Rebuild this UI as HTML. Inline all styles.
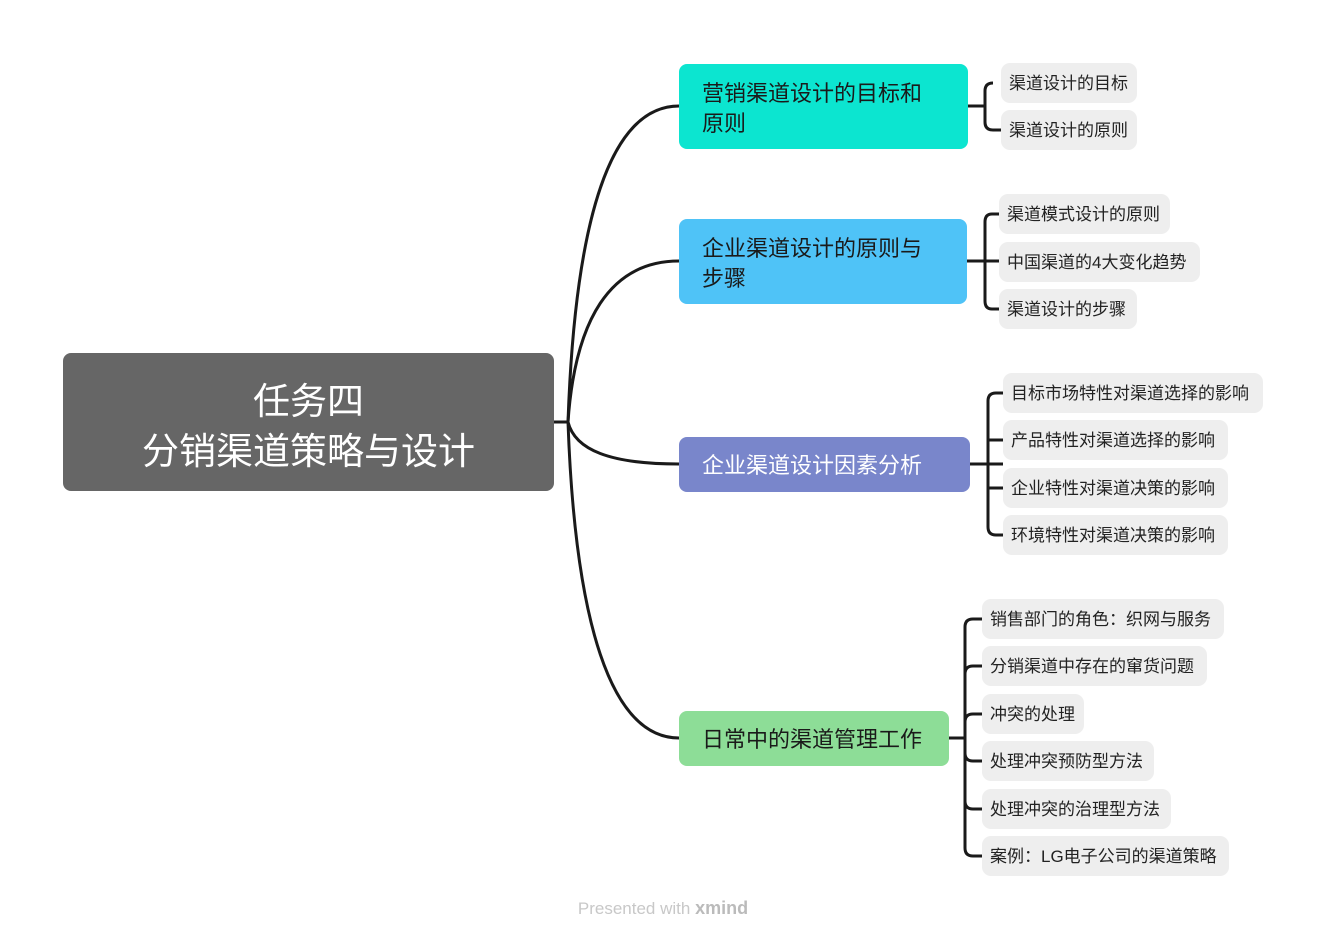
<!DOCTYPE html>
<html><head><meta charset="utf-8"><style>
body{margin:0;width:1326px;height:940px;background:#fff;position:relative;overflow:hidden;font-family:"Liberation Sans","Noto Sans CJK SC",sans-serif}
.n{position:absolute;box-sizing:border-box}
.b{border-radius:8px;font-size:22px;color:#1a1a1a;padding-left:23px;line-height:30px}
.l{background:#eeeeee;border-radius:9px;height:40px;line-height:42px;font-size:17px;color:#222;padding-left:8px}
</style></head><body>
<svg width="1326" height="940" style="position:absolute;left:0;top:0">
<g fill="none" stroke="#1a1a1a" stroke-width="3">
<path d="M554 422 H568 C575 220 610 106 679 106"/>
<path d="M554 422 H568 C575 320 610 261 679 261"/>
<path d="M554 422 H568 C575 450 610 464 679 464"/>
<path d="M554 422 H568 C575 620 610 738 679 738"/>
<path d="M968 106 H985 M993 83 Q985 83 985 91 V122 Q985 130 993 130 H1001"/>
<path d="M967 261 H999 M999 214 H992 Q985 214 985 222 V301 Q985 309 992 309 H999"/>
<path d="M970 464 H1003 M1003 393 H996 Q988 393 988 401 V527 Q988 535 996 535 H1003 M988 440 Q988 440 996 440 H1003 M988 488 H1003"/>
<path d="M949 738 H965 M982 619 H973 Q965 619 965 627 V848 Q965 856 973 856 H982 M965 674 Q965 666 973 666 H982 M965 722 Q965 714 973 714 H982 M965 753 Q965 761 973 761 H982 M965 801 Q965 809 973 809 H982"/>
</g></svg>
<div class="n" style="left:63px;top:353px;width:491px;height:138px;background:#666;border-radius:8px;color:#fff;font-size:37px;text-align:center;line-height:50px;padding-top:24px">任务四<br>分销渠道策略与设计</div>
<div class="n b" style="left:679px;top:64px;width:289px;height:85px;background:#0ce5d0;padding-top:15px">营销渠道设计的目标和<br>原则</div>
<div class="n b" style="left:679px;top:219px;width:288px;height:85px;background:#4fc3f7;padding-top:15px">企业渠道设计的原则与<br>步骤</div>
<div class="n b" style="left:679px;top:437px;width:291px;height:55px;background:#7986cb;color:#fff;padding-top:14px">企业渠道设计因素分析</div>
<div class="n b" style="left:679px;top:711px;width:270px;height:55px;background:#8ddd97;padding-top:14px">日常中的渠道管理工作</div>
<div class="n l" style="left:1001px;top:63px;width:136px">渠道设计的目标</div>
<div class="n l" style="left:1001px;top:110px;width:136px">渠道设计的原则</div>
<div class="n l" style="left:999px;top:194px;width:171px">渠道模式设计的原则</div>
<div class="n l" style="left:999px;top:242px;width:201px">中国渠道的4大变化趋势</div>
<div class="n l" style="left:999px;top:289px;width:138px">渠道设计的步骤</div>
<div class="n l" style="left:1003px;top:373px;width:260px">目标市场特性对渠道选择的影响</div>
<div class="n l" style="left:1003px;top:420px;width:225px">产品特性对渠道选择的影响</div>
<div class="n l" style="left:1003px;top:468px;width:225px">企业特性对渠道决策的影响</div>
<div class="n l" style="left:1003px;top:515px;width:225px">环境特性对渠道决策的影响</div>
<div class="n l" style="left:982px;top:599px;width:242px">销售部门的角色：织网与服务</div>
<div class="n l" style="left:982px;top:646px;width:225px">分销渠道中存在的窜货问题</div>
<div class="n l" style="left:982px;top:694px;width:102px">冲突的处理</div>
<div class="n l" style="left:982px;top:741px;width:172px">处理冲突预防型方法</div>
<div class="n l" style="left:982px;top:789px;width:189px">处理冲突的治理型方法</div>
<div class="n l" style="left:982px;top:836px;width:247px">案例：LG电子公司的渠道策略</div>
<div class="n" style="left:0;top:898px;width:1326px;text-align:center;font-size:17px;color:#c8c8c8">Presented with <b style="color:#bbb;font-size:18px">xmind</b></div>
</body></html>
